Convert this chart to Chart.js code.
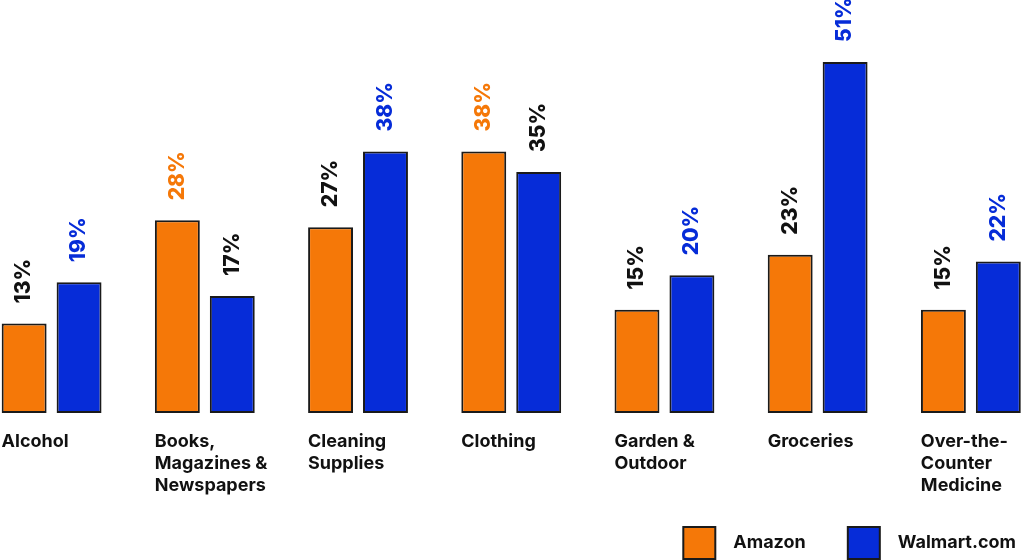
<!DOCTYPE html>
<html>
<head>
<meta charset="utf-8">
<script src="https://cdn.jsdelivr.net/npm/chart.js@4.4.1/dist/chart.umd.min.js"></script>
<style>
  html, body { margin: 0; padding: 0; background: #fff; overflow: hidden; }
  #wrap { position: absolute; left: -25px; top: 0; width: 1083px; height: 569px; }
</style>
</head>
<body>
<div id="wrap"><canvas id="shopChart"></canvas></div>
<script>
var categories = [
	'Alcohol',
	['Books,', 'Magazines &', 'Newspapers'],
	['Cleaning', 'Supplies'],
	'Clothing',
	['Garden &', 'Outdoor'],
	'Groceries',
	['Over-the-', 'Counter', 'Medicine']
];
var amazon = [13, 28, 27, 38, 15, 23, 15];
var walmart = [19, 17, 38, 35, 20, 51, 22];

var orange = '#f57808';
var blue = '#062cd8';
var fontName = 'Inter, "DejaVu Sans", sans-serif';

// percent labels standing on top of each bar, the higher one of a pair gets the series colour
var valueLabels = {
	id: 'valueLabels',
	afterDatasetsDraw: function(chart) {
		var ctx = chart.ctx;
		var sets = chart.data.datasets;
		ctx.save();
		ctx.font = '800 21px ' + fontName;
		ctx.textAlign = 'left';
		ctx.textBaseline = 'middle';
		sets.forEach(function(ds, d) {
			var meta = chart.getDatasetMeta(d);
			var other = sets[1 - d].data;
			meta.data.forEach(function(bar, i) {
				var v = ds.data[i];
				ctx.fillStyle = v > other[i] ? ds.backgroundColor : '#111';
				ctx.save();
				ctx.translate(bar.x, bar.y - 20);
				ctx.rotate(-Math.PI / 2);
				ctx.fillText(v + '%', 0, 0);
				ctx.restore();
			});
		});
		ctx.restore();
	}
};

var ctx = document.getElementById('shopChart');
var chart = new Chart(ctx, {
	type: 'bar',
	data: {
		labels: categories,
		datasets: [
			{
				label: 'Amazon',
				data: amazon,
				backgroundColor: orange,
				borderColor: '#1a1a1a',
				borderWidth: 2,
				borderSkipped: false
			},
			{
				label: 'Walmart.com',
				data: walmart,
				backgroundColor: blue,
				borderColor: '#1a1a1a',
				borderWidth: 2,
				borderSkipped: false
			}
		]
	},
	options: {
		responsive: true,
		maintainAspectRatio: false,
		animation: false,
		categoryPercentage: 0.717,
		barPercentage: 0.818,
		layout: { padding: 0 },
		scales: {
			x: {
				grid: {
					display: true,
					color: 'rgba(0,0,0,0)',
					drawOnChartArea: false,
					drawTicks: true,
					tickLength: 18
				},
				border: { display: false },
				ticks: {
					align: 'start',
					labelOffset: -50,
					padding: 0,
					maxRotation: 0,
					autoSkip: false,
					color: '#111',
					font: { family: fontName, size: 18, weight: 'bold', lineHeight: 1.22 }
				},
				afterFit: function(scale) { scale.height = 90; }
			},
			y: {
				display: false,
				min: 0,
				max: 60
			}
		},
		plugins: {
			legend: {
				position: 'bottom',
				align: 'end',
				labels: {
					boxWidth: 32,
					boxHeight: 32,
					padding: 24,
					color: '#111',
					font: { family: fontName, size: 18, weight: 'bold' },
					// wider gap between swatch and name, and between the two entries
					generateLabels: function(chart) {
						var items = Chart.defaults.plugins.legend.labels.generateLabels(chart);
						items.forEach(function(it) { it.text = '\u2002' + it.text + '\u2002\u2002'; });
						return items;
					}
				}
			}
		}
	},
	plugins: [valueLabels]
});
</script>
</body>
</html>
